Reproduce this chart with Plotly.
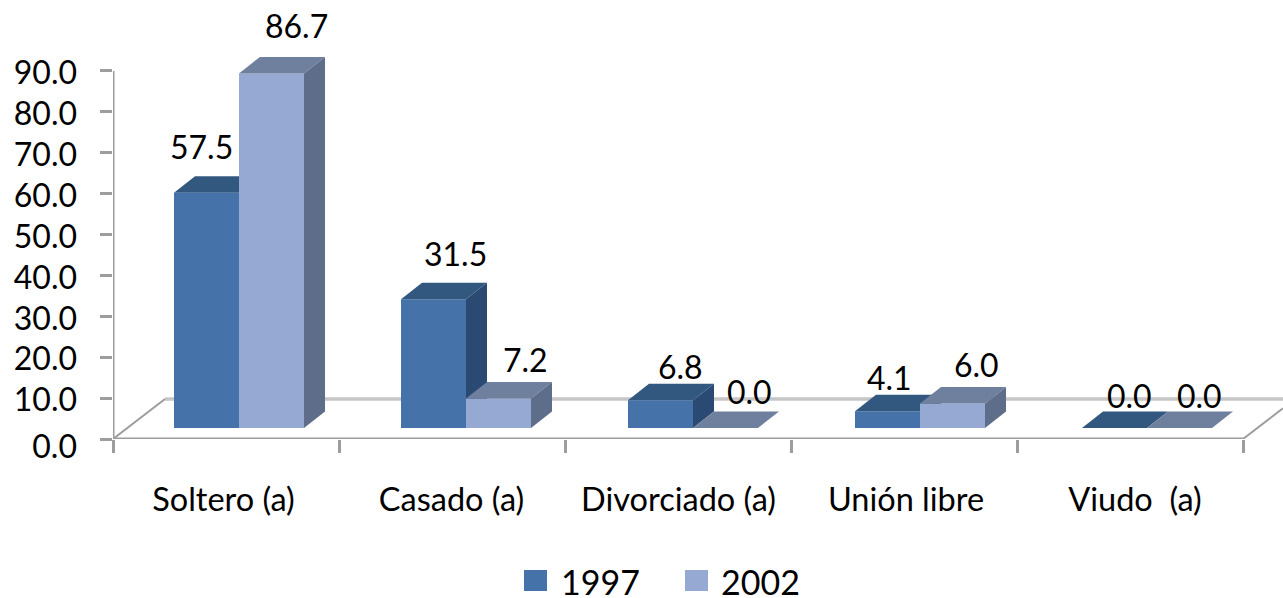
import plotly.graph_objects as go

# ---- data ----
categories = ["Soltero (a)", "Casado (a)", "Divorciado (a)", "Unión libre", "Viudo\u00a0 (a)"]
values_1997 = [57.5, 31.5, 6.8, 4.1, 0.0]
values_2002 = [86.7, 7.2, 0.0, 6.0, 0.0]
series_names = ["1997", "2002"]
y_ticks = [0, 10, 20, 30, 40, 50, 60, 70, 80, 90]

# ---- layout constants (pixels of the 1283x598 page) ----
W, H = 1283, 598
X0, Y0 = 113, 439           # origin of the axes
CAT_PX, UNIT_PX = 226.0, 4.09
GROUP_STEP_PX = 227.0       # bar groups are spaced slightly wider than the categories
BAR_PX, BAR_SHIFT_PX = 65.0, 13.0
FLOOR_PX = 11.0             # bars stand on the floor, above the front axis
DEPTH_X_PX, DEPTH_Y_PX = 21.0, 16.5
WALL_X_PX, WALL_Y_PX = 52.0, 40.0

FONT = "Lato"
TXT = "#000000"
AXIS = "#9d9d9d"
WALL = "#c6c6c6"
COL = {
    "1997": dict(front="#4472a9", top="#33587f", side="#2b4a73"),
    "2002": dict(front="#96a9d2", top="#6f7f9e", side="#5e6d8a"),
}
# pixel nudges of each data label from the top of its bar (as placed in the source chart)
label_dx = {"1997": [-5, 22, 20, 2, 15], "2002": [25, 27, 24, 24, 20]}
label_dy = {"1997": [46, 46, 34, 34, 33], "2002": [48, 39, 37, 39, 33]}
# pixel nudges of the category labels along the axis
cat_label_dx = [-2.5, -0.5, 0.5, 2, 5]

x_per_px = 1 / CAT_PX
y_per_px = 1 / UNIT_PX
bar_w = BAR_PX * x_per_px
base = FLOOR_PX * y_per_px
dx, dy = DEPTH_X_PX * x_per_px, DEPTH_Y_PX * y_per_px
n = len(categories)
x_max = (W - X0) * x_per_px
y_max = Y0 * y_per_px


def poly(pts):
    xs, ys = [], []
    for px, py in pts:
        xs.append(px)
        ys.append(py)
    return xs + [xs[0]], ys + [ys[0]]


def add_series(fig, name, vals, offset, xa, ya):
    c = COL[name]
    centers = [0.5 + i * GROUP_STEP_PX * x_per_px + BAR_SHIFT_PX * x_per_px + offset * bar_w for i in range(n)]
    fig.add_trace(go.Bar(
        x=centers, y=vals, base=[base] * n, width=bar_w, name=name,
        marker=dict(color=c["front"], line=dict(width=0)), xaxis=xa, yaxis=ya,
        showlegend=False, hoverinfo="x+y"))
    for cx, v in zip(centers, vals):
        l, r = cx - bar_w / 2, cx + bar_w / 2
        t = base + v
        xs, ys = poly([(l, t), (r, t), (r + dx, t + dy), (l + dx, t + dy)])
        fig.add_trace(go.Scatter(x=xs, y=ys, mode="lines", fill="toself", fillcolor=c["top"],
                                 line=dict(width=0, color=c["top"]), xaxis=xa, yaxis=ya,
                                 showlegend=False, hoverinfo="skip"))
        if v > 0:
            xs, ys = poly([(r, base), (r + dx, base + dy), (r + dx, t + dy), (r, t)])
            fig.add_trace(go.Scatter(x=xs, y=ys, mode="lines", fill="toself", fillcolor=c["side"],
                                     line=dict(width=0, color=c["side"]), xaxis=xa, yaxis=ya,
                                     showlegend=False, hoverinfo="skip"))
    return centers


fig = go.Figure()
c97 = add_series(fig, "1997", values_1997, -0.5, "x", "y")
c02 = add_series(fig, "2002", values_2002, 0.5, "x2", "y2")

annotations = []
for name, centers, vals in (("1997", c97, values_1997), ("2002", c02, values_2002)):
    for i, (cx, v) in enumerate(zip(centers, vals)):
        annotations.append(dict(
            x=cx, y=base + v, xref="x", yref="y", text=f"{v:.1f}", showarrow=False,
            xanchor="center", yanchor="middle", xshift=label_dx[name][i], yshift=label_dy[name][i],
            font=dict(family=FONT, size=32, color=TXT)))

px2x = lambda p: (p - X0) / (W - X0)
px2y = lambda p: (Y0 - p) / Y0

shapes = [
    # back wall / floor
    dict(type="line", xref="x", yref="y", x0=WALL_X_PX * x_per_px, x1=x_max,
         y0=WALL_Y_PX * y_per_px, y1=WALL_Y_PX * y_per_px, line=dict(color=WALL, width=3.5), layer="below"),
    dict(type="line", xref="x", yref="y", x0=0, x1=WALL_X_PX * x_per_px, y0=0,
         y1=WALL_Y_PX * y_per_px, line=dict(color=AXIS, width=2), layer="below"),
    dict(type="line", xref="x", yref="y", x0=n, x1=x_max, y0=0,
         y1=(W - X0 - n * CAT_PX) * y_per_px * WALL_Y_PX / WALL_X_PX, line=dict(color=AXIS, width=2), layer="below"),
    # axes
    dict(type="line", xref="x", yref="y", x0=0, x1=n, y0=0, y1=0, line=dict(color=AXIS, width=3), layer="below"),
    dict(type="line", xref="x", yref="y", x0=0, x1=0, y0=0, y1=90, line=dict(color=AXIS, width=3), layer="below"),
]

# legend
for name, sx0, tx in zip(series_names, [524, 685], [559, 719]):
    shapes.append(dict(type="rect", xref="paper", yref="paper", x0=px2x(sx0), x1=px2x(sx0 + 23),
                       y0=px2y(570), y1=px2y(591), fillcolor=COL[name]["front"], line=dict(width=0)))
    annotations.append(dict(xref="paper", yref="paper", x=px2x(tx), y=px2y(581), text=name, showarrow=False,
                            xanchor="left", yanchor="middle", height=32, font=dict(family=FONT, size=34, color=TXT)))

# y labels: the source places "0.0" lower than the rest relative to its tick
y_label_pos = [t + 6 * y_per_px if t > 0 else t for t in y_ticks]

common_hidden = dict(visible=False, fixedrange=True)
fig.update_layout(
    width=W, height=H, showlegend=False, plot_bgcolor="white", paper_bgcolor="white",
    margin=dict(l=X0, r=0, t=0, b=H - Y0, pad=0), barmode="overlay",
    font=dict(family=FONT, color=TXT),
    shapes=shapes, annotations=annotations,
    xaxis=dict(
        range=[0, x_max], tickmode="array",
        tickvals=[i + 0.5 + d * x_per_px for i, d in enumerate(cat_label_dx)], ticktext=categories,
        ticks="", showgrid=False, zeroline=False, showline=False, fixedrange=True,
        tickfont=dict(family=FONT, size=32.5, color=TXT), ticklabelstandoff=38,
        minor=dict(tickmode="array", tickvals=list(range(n + 1)), ticks="outside", ticklen=13,
                   tickwidth=2.5, tickcolor=AXIS, showgrid=False),
    ),
    yaxis=dict(
        range=[0, y_max], tickmode="array", tickvals=y_label_pos, ticktext=[f"{t:.1f}" for t in y_ticks],
        ticks="", showgrid=False, zeroline=False,
        showline=False, fixedrange=True, tickfont=dict(family=FONT, size=32, color=TXT),
        ticklabelstandoff=35, ticklabelshift=8,
        minor=dict(tickmode="array", tickvals=y_ticks, ticks="outside", ticklen=12,
                   tickwidth=2.5, tickcolor=AXIS, showgrid=False),
    ),
    xaxis2=dict(range=[0, x_max], overlaying="x", **common_hidden),
    yaxis2=dict(range=[0, y_max], overlaying="y", **common_hidden),
)

fig.write_html("out.html", config={"displayModeBar": False},
               post_script="document.body.style.margin='0';document.body.style.overflow='hidden';")
